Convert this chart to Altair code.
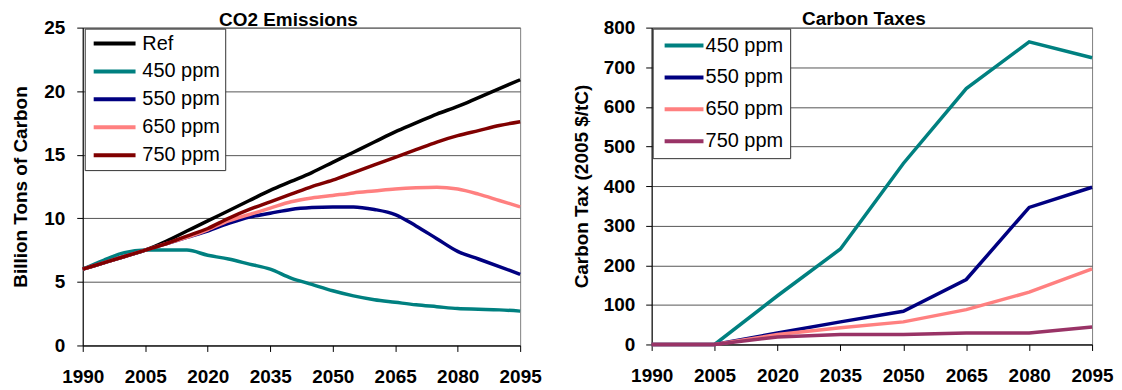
import altair as alt
import pandas as pd

# ---------------- data ----------------
years_em = list(range(1990, 2100, 5))
em_ref = [6.0, 6.5, 7.0, 7.5, 8.2, 9.0, 9.8, 10.6, 11.4, 12.2, 12.9, 13.6, 14.4, 15.2, 16.0, 16.8, 17.5, 18.2, 18.8, 19.5, 20.2, 20.9]
em_450 = [6.0, 6.7, 7.3, 7.5, 7.5, 7.5, 7.1, 6.8, 6.4, 6.0, 5.3, 4.8, 4.3, 3.9, 3.6, 3.4, 3.2, 3.05, 2.9, 2.85, 2.8, 2.7]
em_550 = [6.0, 6.5, 7.0, 7.5, 8.0, 8.5, 9.0, 9.6, 10.1, 10.4, 10.7, 10.85, 10.9, 10.9, 10.7, 10.3, 9.4, 8.4, 7.4, 6.8, 6.2, 5.6]
em_650 = [6.0, 6.5, 7.0, 7.5, 8.0, 8.5, 9.1, 9.8, 10.3, 10.8, 11.3, 11.6, 11.8, 12.0, 12.15, 12.3, 12.4, 12.45, 12.3, 11.9, 11.4, 10.9]
em_750 = [6.0, 6.5, 7.0, 7.5, 8.0, 8.6, 9.2, 10.0, 10.7, 11.3, 11.9, 12.5, 13.0, 13.6, 14.2, 14.8, 15.4, 16.0, 16.5, 16.9, 17.3, 17.6]

years_tax = [1990, 2005, 2020, 2035, 2050, 2065, 2080, 2095]
tax_450 = [0, 0, 123, 241, 457, 646, 764, 724]
tax_550 = [0, 0, 29, 57, 84, 164, 346, 397]
tax_650 = [0, 0, 25, 42, 57, 88, 132, 191]
tax_750 = [0, 0, 19, 25, 25, 29, 29, 44]

em_names = ["Ref", "450 ppm", "550 ppm", "650 ppm", "750 ppm"]
em_colors = ["#000000", "#008080", "#000080", "#FF8080", "#800000"]
tax_names = ["450 ppm", "550 ppm", "650 ppm", "750 ppm"]
tax_colors = ["#008080", "#000080", "#FF8080", "#993366"]

x_ticks = [1990, 2005, 2020, 2035, 2050, 2065, 2080, 2095]
em_yticks = [0, 5, 10, 15, 20, 25]
tax_yticks = [0, 100, 200, 300, 400, 500, 600, 700, 800]

# ---------------- tables ----------------
em_rows = []
for name, vals in zip(em_names, [em_ref, em_450, em_550, em_650, em_750]):
    for y, v in zip(years_em, vals):
        em_rows.append({"year": y, "value": v, "series": name})
df_em = pd.DataFrame(em_rows)

tax_rows = []
for name, vals in zip(tax_names, [tax_450, tax_550, tax_650, tax_750]):
    for y, v in zip(years_tax, vals):
        tax_rows.append({"year": y, "value": v, "series": name})
df_tax = pd.DataFrame(tax_rows)

FONT = "Liberation Sans"


def x_enc():
    return alt.X(
        "year:Q",
        scale=alt.Scale(domain=[1990, 2095], nice=False, zero=False),
        axis=alt.Axis(values=x_ticks, format="d", title=None, grid=False,
                      labelPadding=16, tickSize=6, labelFlush=False),
    )


def legend(x, y, length, shift, row_pad, pad, sym_off, gap):
    # custom horizontal line symbol; path units are scaled by sqrt(size)/2
    r = length / 10.0
    size = (2 * r) ** 2
    s = shift / r
    path = "M%.3f,0H%.3f" % (-s, 10 - s)
    return alt.Legend(title=None, orient="none", legendX=x, legendY=y,
                      symbolType=path, symbolSize=size,
                      symbolStrokeWidth=4, labelFontSize=20,
                      labelFont=FONT, labelOffset=length - r - shift + gap,
                      rowPadding=row_pad, padding=pad, symbolOffset=sym_off,
                      strokeColor="#333333", fillColor="#ffffff",
                      labelLimit=300)


left = alt.Chart(df_em).mark_line(strokeWidth=3.5, interpolate="monotone").encode(
    x=x_enc(),
    y=alt.Y("value:Q", scale=alt.Scale(domain=[0, 25], nice=False),
            axis=alt.Axis(values=em_yticks, title="Billion Tons of Carbon",
                          titlePadding=13, labelPadding=12, tickSize=6)),
    color=alt.Color("series:N", sort=em_names,
                    scale=alt.Scale(domain=em_names, range=em_colors),
                    legend=legend(2, 1, 42, 12, 8, 5, 6, 1)),
).properties(
    width=439, height=319,
    title=alt.TitleParams("CO2 Emissions", fontSize=19, fontWeight="bold", font=FONT,
                          dx=-13, offset=-11),
)

right = alt.Chart(df_tax).mark_line(strokeWidth=3.5).encode(
    x=x_enc(),
    y=alt.Y("value:Q", scale=alt.Scale(domain=[0, 800], nice=False),
            axis=alt.Axis(values=tax_yticks, title="Carbon Tax (2005 $/tC)",
                          titlePadding=12, labelPadding=11, tickSize=6)),
    color=alt.Color("series:N", sort=tax_names,
                    scale=alt.Scale(domain=tax_names, range=tax_colors),
                    legend=legend(1, 1, 39, 9, 12, 7, 4, -4)),
).properties(
    width=442, height=318,
    title=alt.TitleParams("Carbon Taxes", fontSize=19, fontWeight="bold", font=FONT,
                          dx=-8, offset=-10),
)

chart = alt.hconcat(left, right, spacing=29).resolve_scale(
    color="independent"
).properties(
    padding={"left": 3, "top": 0, "right": 0, "bottom": 0}
).configure_view(
    stroke="#808080", strokeWidth=1
).configure_axis(
    labelFont=FONT, labelFontSize=19, labelFontWeight="bold", labelColor="#000000",
    titleFont=FONT, titleFontSize=19, titleFontWeight="bold", titleColor="#000000",
    domainColor="#000000", tickColor="#000000", gridColor="#555555", gridWidth=1,
)

chart.save("out.html", embed_options={"renderer": "svg", "actions": False})
